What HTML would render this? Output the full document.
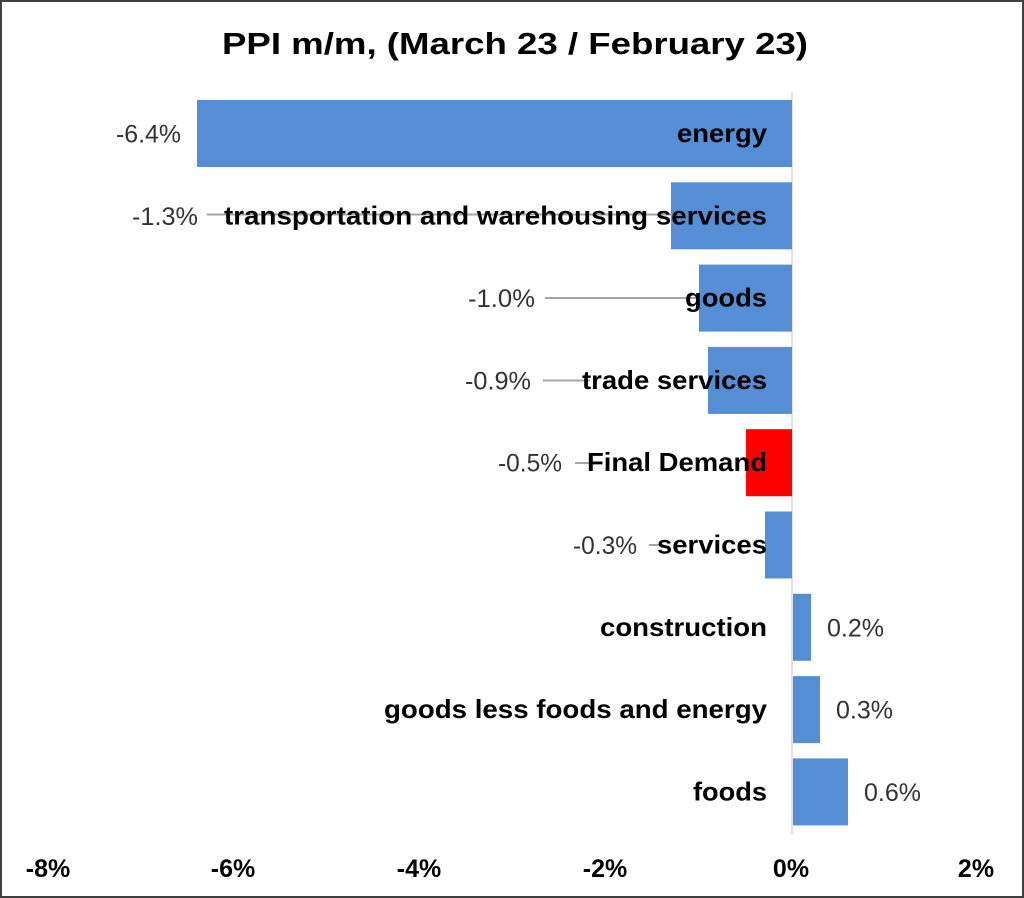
<!DOCTYPE html>
<html>
<head>
<meta charset="utf-8">
<style>
  html,body{margin:0;padding:0;background:#fff;}
  svg{display:block;}
  text{font-family:"Liberation Sans", Arial, sans-serif;}
</style>
</head>
<body>
<svg width="1024" height="898" viewBox="0 0 1024 898" xmlns="http://www.w3.org/2000/svg">
  <rect x="0" y="0" width="1024" height="898" fill="#ffffff"/>
  <rect x="1" y="1" width="1022" height="896" fill="none" stroke="#404040" stroke-width="2"/>

  <!-- Title -->
  <text x="222" y="54" font-size="31" font-weight="bold" fill="#000" textLength="586" lengthAdjust="spacingAndGlyphs">PPI m/m, (March 23 / February 23)</text>

  <!-- axis line -->
  <line x1="792" y1="92" x2="792" y2="835" stroke="#d9d9d9" stroke-width="1.5"/>

  <!-- bars -->
  <rect x="197" y="100" width="595" height="67" fill="#558ed5"/>
  <rect x="671" y="182.3" width="121" height="67" fill="#558ed5"/>
  <rect x="699" y="264.6" width="93" height="67" fill="#558ed5"/>
  <rect x="708" y="346.9" width="84" height="67" fill="#558ed5"/>
  <rect x="746" y="429.2" width="46" height="67" fill="#ff0000"/>
  <rect x="765" y="511.5" width="27" height="67" fill="#558ed5"/>
  <rect x="793" y="593.8" width="18" height="67" fill="#558ed5"/>
  <rect x="793" y="676.1" width="27" height="67" fill="#558ed5"/>
  <rect x="793" y="758.4" width="55" height="67" fill="#558ed5"/>

  <!-- leader lines -->
  <g stroke="#a6a6a6" stroke-width="2">
    <line x1="207" y1="214.5" x2="672" y2="214.5"/>
    <line x1="545" y1="298" x2="700" y2="298"/>
    <line x1="543" y1="380.5" x2="590" y2="380.5"/>
    <line x1="575" y1="463" x2="595" y2="463"/>
    <line x1="649" y1="545" x2="662" y2="545"/>
  </g>

  <!-- category labels -->
  <g font-size="26" font-weight="bold" fill="#000" text-anchor="end">
    <text x="767" y="142" textLength="90" lengthAdjust="spacingAndGlyphs">energy</text>
    <text x="767" y="224.3" textLength="543" lengthAdjust="spacingAndGlyphs">transportation and warehousing services</text>
    <text x="767" y="306.6" textLength="82" lengthAdjust="spacingAndGlyphs">goods</text>
    <text x="767" y="388.9" textLength="185" lengthAdjust="spacingAndGlyphs">trade services</text>
    <text x="767" y="471.2" textLength="180" lengthAdjust="spacingAndGlyphs">Final Demand</text>
    <text x="767" y="553.5" textLength="110" lengthAdjust="spacingAndGlyphs">services</text>
    <text x="767" y="635.8" textLength="167" lengthAdjust="spacingAndGlyphs">construction</text>
    <text x="767" y="718.1" textLength="383" lengthAdjust="spacingAndGlyphs">goods less foods and energy</text>
    <text x="767" y="800.4" textLength="74" lengthAdjust="spacingAndGlyphs">foods</text>
  </g>

  <!-- value labels -->
  <g font-size="25" fill="#333">
    <text x="116" y="142.5" textLength="65" lengthAdjust="spacingAndGlyphs">-6.4%</text>
    <text x="132" y="224.8" textLength="66" lengthAdjust="spacingAndGlyphs">-1.3%</text>
    <text x="468" y="307.1" textLength="67" lengthAdjust="spacingAndGlyphs">-1.0%</text>
    <text x="465" y="389.4" textLength="66" lengthAdjust="spacingAndGlyphs">-0.9%</text>
    <text x="498" y="471.7" textLength="64" lengthAdjust="spacingAndGlyphs">-0.5%</text>
    <text x="573" y="554" textLength="64" lengthAdjust="spacingAndGlyphs">-0.3%</text>
    <text x="827" y="636.3" textLength="57" lengthAdjust="spacingAndGlyphs">0.2%</text>
    <text x="836" y="718.6" textLength="57" lengthAdjust="spacingAndGlyphs">0.3%</text>
    <text x="864" y="800.9" textLength="57" lengthAdjust="spacingAndGlyphs">0.6%</text>
  </g>

  <!-- x-axis tick labels -->
  <g font-size="25" font-weight="bold" fill="#000" text-anchor="middle">
    <text x="48" y="877">-8%</text>
    <text x="233" y="877">-6%</text>
    <text x="419" y="877">-4%</text>
    <text x="605" y="877">-2%</text>
    <text x="791" y="877">0%</text>
    <text x="976" y="877">2%</text>
  </g>
</svg>
</body>
</html>
